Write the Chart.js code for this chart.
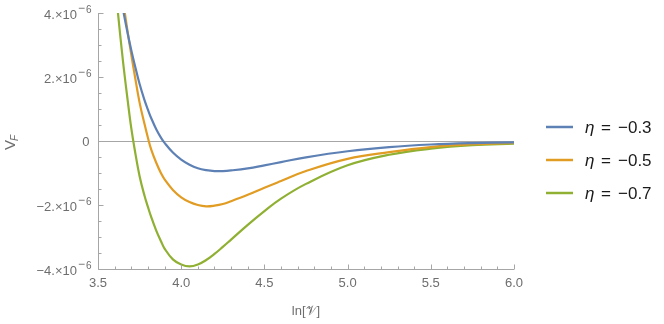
<!DOCTYPE html>
<html>
<head>
<meta charset="utf-8">
<script src="https://cdn.jsdelivr.net/npm/chart.js@4.4.1/dist/chart.umd.min.js"></script>
<style>
  html, body { margin: 0; padding: 0; background: #fff; }
  #wrap { width: 664px; height: 324px; }
</style>
</head>
<body>
<div id="wrap"><canvas id="myChart"></canvas></div>
<script>
// ln[V] sample points
const lnV = [3.60, 3.62, 3.65, 3.68, 3.70, 3.72, 3.75, 3.78, 3.80, 3.82, 3.85, 3.88, 3.90, 3.95,
  4.00, 4.05, 4.10, 4.15, 4.20, 4.25, 4.30, 4.40, 4.50, 4.60, 4.75, 5.00, 5.25, 5.50, 5.75, 6.00];

// V_F in units of 1e-6
const vfEta03 = [5.7, 5.05, 4.12, 3.32, 2.84, 2.40, 1.78, 1.27, 0.98, 0.71, 0.37, 0.09, -0.06, -0.36,
  -0.58, -0.74, -0.85, -0.91, -0.94, -0.94, -0.92, -0.855, -0.76, -0.66, -0.51, -0.32, -0.19, -0.11, -0.065, -0.04];
const vfEta05 = [6.3, 5.5, 4.4, 3.35, 2.7, 2.08, 1.2, 0.52, 0.1, -0.27, -0.68, -1.02, -1.20, -1.53,
  -1.76, -1.91, -2.0, -2.04, -2.02, -1.97, -1.88, -1.68, -1.46, -1.25, -0.94, -0.56, -0.35, -0.19, -0.10, -0.06];
const vfEta07 = [5.1, 4.0, 2.5, 1.2, 0.4, -0.25, -1.1, -1.72, -2.06, -2.38, -2.80, -3.15, -3.36, -3.70,
  -3.86, -3.92, -3.86, -3.72, -3.53, -3.31, -3.08, -2.62, -2.19, -1.80, -1.34, -0.76, -0.43, -0.24, -0.13, -0.08];

const etaLabels = ['\u22120.3', '\u22120.5', '\u22120.7'];
const colors = ['#5e81b5', '#e19c24', '#8fb032'];

const xTicks = [3.5, 4.0, 4.5, 5.0, 5.5, 6.0];
const yTicks = [4, 2, 0, -2, -4]; // x 1e-6

const toPoints = vals => lnV.map((x, i) => ({ x: x, y: vals[i] * 1e-6 }));

const axisColor = '#a6a6a6';
const labelColor = '#6e6e6e';
const font = '"Liberation Sans", Arial, sans-serif';

const axesPlugin = {
  id: 'axesPlugin',
  beforeDatasetsDraw(chart) {
    const { ctx, chartArea: a, scales: { y } } = chart;
    const y0 = Math.round(y.getPixelForValue(0)) + 0.5;
    ctx.save();
    ctx.strokeStyle = axisColor;
    ctx.lineWidth = 1;
    ctx.beginPath();
    ctx.moveTo(a.left, y0);
    ctx.lineTo(a.right, y0);
    ctx.stroke();
    ctx.restore();
  },
  afterDraw(chart) {
    const { ctx, chartArea: a, scales: { x, y } } = chart;
    ctx.save();
    ctx.strokeStyle = axisColor;
    ctx.lineWidth = 1;
    const left = Math.round(a.left) + 0.5;
    const bottom = Math.round(a.bottom) + 0.5;

    // axis lines
    ctx.beginPath();
    ctx.moveTo(left, a.top);
    ctx.lineTo(left, bottom);
    ctx.lineTo(a.right, bottom);
    ctx.stroke();

    // ticks, pointing inward
    ctx.beginPath();
    for (let i = 0; i <= 25; i++) {
      const v = 3.5 + i * 0.1;
      const px = Math.round(x.getPixelForValue(v)) + 0.5;
      const len = i % 5 === 0 ? 5 : 3;
      ctx.moveTo(px, bottom);
      ctx.lineTo(px, bottom - len);
    }
    for (let i = 0; i <= 16; i++) {
      const v = (-4 + i * 0.5) * 1e-6;
      const py = Math.round(y.getPixelForValue(v)) + 0.5;
      const len = i % 4 === 0 ? 5 : 3;
      ctx.moveTo(left, py);
      ctx.lineTo(left + len, py);
    }
    ctx.stroke();

    // x tick labels
    ctx.fillStyle = labelColor;
    ctx.font = '13px ' + font;
    ctx.textAlign = 'center';
    ctx.textBaseline = 'alphabetic';
    xTicks.forEach(v => {
      ctx.fillText(v.toFixed(1), x.getPixelForValue(v), 287);
    });

    // y tick labels with superscript exponent
    ctx.textAlign = 'right';
    yTicks.forEach(v => {
      const py = y.getPixelForValue(v * 1e-6);
      const right = 91.5;
      if (v === 0) {
        ctx.font = '13px ' + font;
        ctx.fillText('0', 89.5, py + 5);
        return;
      }
      ctx.font = '10px ' + font;
      ctx.fillText('6', right, py);
      const w6 = ctx.measureText('6').width;
      ctx.font = '12px ' + font;
      ctx.fillText('\u2212', right - w6 - 1, py - 1);
      const wm = ctx.measureText('\u2212').width;
      ctx.font = '13px ' + font;
      const base = (v < 0 ? '\u2212' : '') + Math.abs(v) + '.\u00d710';
      ctx.fillText(base, right - w6 - wm - 2, py + 6);
    });

    // x axis title
    ctx.textAlign = 'center';
    ctx.font = '13px ' + font;
    ctx.fillText('ln[\ud835\udcb1]', (a.left + a.right) / 2, 315);

    // y axis title V_F (rotated)
    ctx.save();
    ctx.translate(15, 143);
    ctx.rotate(-Math.PI / 2);
    ctx.textAlign = 'left';
    ctx.font = '15px ' + font;
    ctx.fillText('V', -7, 0);
    const vw = ctx.measureText('V').width;
    ctx.font = 'italic 10px ' + font;
    ctx.fillText('F', -7 + vw - 1, 3);
    ctx.restore();

    // legend
    const rows = [127, 160, 193];
    chart.data.datasets.forEach((ds, i) => {
      const ly = rows[i];
      ctx.strokeStyle = ds.borderColor;
      ctx.lineWidth = 2.5;
      ctx.beginPath();
      ctx.moveTo(546, ly);
      ctx.lineTo(573, ly);
      ctx.stroke();
      ctx.fillStyle = '#1a1a1a';
      ctx.textAlign = 'left';
      ctx.textBaseline = 'middle';
      ctx.font = 'italic 17px ' + font;
      ctx.fillText('\u03b7', 585, ly + 1);
      ctx.font = '17px ' + font;
      ctx.fillText('=', 601, ly + 1);
      ctx.fillText(etaLabels[i], 618, ly + 1);
    });
    ctx.restore();
  }
};

const ctx = document.getElementById('myChart');
new Chart(ctx, {
  type: 'line',
  data: {
    datasets: [
      { label: 'eta = -0.3', data: toPoints(vfEta03), borderColor: colors[0] },
      { label: 'eta = -0.5', data: toPoints(vfEta05), borderColor: colors[1] },
      { label: 'eta = -0.7', data: toPoints(vfEta07), borderColor: colors[2] }
    ]
  },
  options: {
    responsive: true,
    maintainAspectRatio: false,
    animation: false,
    layout: { padding: { left: 98, right: 150, top: 13, bottom: 55 } },
    elements: {
      point: { radius: 0 },
      line: { borderWidth: 2.2, tension: 0.4, capBezierPoints: false }
    },
    plugins: {
      legend: { display: false },
      tooltip: { enabled: false }
    },
    scales: {
      x: { type: 'linear', min: 3.5, max: 6.0, display: false },
      y: { type: 'linear', min: -4e-6, max: 4e-6, display: false }
    }
  },
  plugins: [axesPlugin]
});
</script>
</body>
</html>
